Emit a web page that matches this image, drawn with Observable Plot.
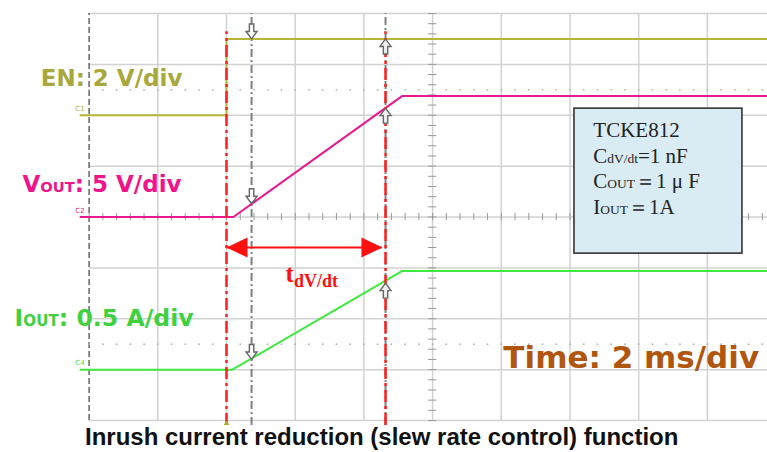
<!DOCTYPE html>
<html>
<head>
<meta charset="utf-8">
<script src="https://cdn.jsdelivr.net/npm/d3@7"></script>
<script src="https://cdn.jsdelivr.net/npm/@observablehq/plot@0.6"></script>
<style>
  html, body { margin: 0; padding: 0; background: #fff; width: 767px; height: 452px; overflow: hidden; }
  #caption { font-family: "Liberation Sans", Arial, sans-serif; font-weight: bold; font-size: 24px; color: #111;
             line-height: 24px; padding-left: 85px; white-space: nowrap; }
</style>
</head>
<body>
<div id="chart"></div>
<div id="caption">Inrush current reduction (slew rate control) function</div>
<script>
// ---- data (time in ms, t = 0 at the EN rising edge / trigger) ----
const channelNames   = ["EN", "VOUT", "IOUT"];
const channelLabels  = ["EN: 2 V/div", "V{OUT}: 5 V/div", "I{OUT}: 0.5 A/div"];
const channelMarkers = ["C1", "C2", "C4"];
const channelScales  = [2, 5, 0.5];      // units per division
const channelOffsets = [2, 0, -3];       // ground level, in divisions
const channelColors  = ["#b5b53a", "#e8188e", "#3ee83e"];
const labelColors    = ["#a8a83c", "#f0148c", "#40d040"];

const enTime   = [-4.25, 0, 0, 16.5];
const enVolts  = [0, 0, 3.0, 3.0];
const voutTime  = [-4.25, 0.2, 5.12, 16.5];
const voutVolts = [0, 0, 11.9, 11.9];
const ioutTime = [-4.25, 0.17, 5.12, 16.5];
const ioutAmps = [0, 0, 0.97, 0.97];

const cursorTimes = [0.73, 4.63];
const enAtCursor   = [3.0, 3.0];
const voutAtCursor = [1.3, 10.7];
const ioutAtCursor = [0.1, 0.85];
const edgeMarkerTimes = [0, 4.63];       // red dashed markers
const slewTime = 4.54;                   // tdV/dt arrow end

const boxLines = ["TCKE812", "C{dV/dt}=1 nF", "C{OUT}＝1 μ F", "I{OUT}＝1A"];
const timeLabel = "Time: 2 ms/div";

// ---- build rows ----
const toDiv = (ci, v) => channelOffsets[ci] + v / channelScales[ci];
const traces = [
  ...enTime.map((t, i) => ({ch: 0, t, y: toDiv(0, enVolts[i])})),
  ...voutTime.map((t, i) => ({ch: 1, t, y: toDiv(1, voutVolts[i])})),
  ...ioutTime.map((t, i) => ({ch: 2, t, y: toDiv(2, ioutAmps[i])}))
];
const cursorVals = [enAtCursor, voutAtCursor, ioutAtCursor];
const cursorPts = [];
cursorVals.forEach((arr, ci) => arr.forEach((v, k) => cursorPts.push({t: cursorTimes[k], y: toDiv(ci, v), k})));

const labelY = [2.72, 0.64, -1.99];
const labelT = [-5.41, -5.94, -6.17];
const labelSize = [23, 23, 23.6];
const labels = channelLabels.map((s, i) => ({s, t: labelT[i], y: labelY[i], c: labelColors[i], f: labelSize[i]}));
const markers = channelMarkers.map((s, i) => ({s, t: -4.4, y: channelOffsets[i] + 0.13, c: channelColors[i]}));

// custom symbols
const arrowDown = {draw(c) { c.moveTo(0,0); c.lineTo(-5.5,-7.5); c.lineTo(-2.2,-7.5); c.lineTo(-2.2,-15); c.lineTo(2.2,-15); c.lineTo(2.2,-7.5); c.lineTo(5.5,-7.5); c.closePath(); }};
const arrowUp   = {draw(c) { c.moveTo(0,0); c.lineTo(-5.5,7.5); c.lineTo(-2.2,7.5); c.lineTo(-2.2,15); c.lineTo(2.2,15); c.lineTo(2.2,7.5); c.lineTo(5.5,7.5); c.closePath(); }};
const headLeft  = {draw(c) { c.moveTo(0,0); c.lineTo(21,-10); c.lineTo(21,10); c.closePath(); }};
const headRight = {draw(c) { c.moveTo(0,0); c.lineTo(-21,-10); c.lineTo(-21,10); c.closePath(); }};
const trigTri   = {draw(c) { c.moveTo(0,0); c.lineTo(-4.5,7); c.lineTo(4.5,7); c.closePath(); }};

const gridX = d3.range(-2, 16.01, 2);
const gridY = d3.range(-4, 4.01, 1);
const fineX = d3.range(-4, 16.01, 0.4);
const fineY = d3.range(-4, 4.01, 0.2);

const plot = Plot.plot({
  width: 767, height: 425,
  marginLeft: 0, marginRight: 0, marginTop: 0, marginBottom: 0,
  x: {domain: [-4, 16], range: [88.6, 775.6], axis: null},
  y: {domain: [-4, 4], range: [420, 13], axis: null},
  style: {fontFamily: "DejaVu Sans", background: "#fff"},
  marks: [
    // graticule
    Plot.ruleX(gridX, {y1: -4, y2: 4, stroke: "#d2d2d2", strokeWidth: 1.5}),
    Plot.ruleY(gridY, {x1: -4, x2: 16, stroke: "#d2d2d2", strokeWidth: 1.5}),
    Plot.ruleX([-4], {y1: -4, y2: 4, stroke: "#5a5a5a", strokeWidth: 1.4, strokeDasharray: "6,3"}),
    Plot.ruleX(fineX, {y1: -0.07, y2: 0.07, stroke: "#999", strokeWidth: 1}),
    Plot.ruleY(fineY, {x1: 5.88, x2: 6.12, stroke: "#999", strokeWidth: 1}),
    Plot.dot(fineX.map(t => ({t, y: 2.5})).concat(fineX.map(t => ({t, y: -2.5}))), {x: "t", y: "y", r: 0.9, fill: "#b0b0b0"}),
    // cursors
    Plot.ruleX(cursorTimes, {y1: -4.1, y2: 4, stroke: "#808080", strokeWidth: 2, strokeDasharray: "8,3,2,3"}),
    // traces
    Plot.line(traces, {x: "t", y: "y", z: "ch", stroke: d => channelColors[d.ch], strokeWidth: 2}),
    Plot.text(markers, {x: "t", y: "y", text: "s", fill: "c", fontSize: 7, textAnchor: "start"}),
    // red edge markers
    Plot.ruleX(edgeMarkerTimes, {y1: -4.1, y2: 3.64, stroke: "#ff1e1e", strokeWidth: 2.5, strokeDasharray: "12,4,3,4"}),
    // cursor crossing arrows
    Plot.dot(cursorPts.filter(d => d.k === 0), {x: "t", y: "y", symbol: arrowDown, fill: "#fff", stroke: "#666", strokeWidth: 1.4}),
    Plot.dot(cursorPts.filter(d => d.k === 1), {x: "t", y: "y", symbol: arrowUp, fill: "#eee", stroke: "#666", strokeWidth: 1.4}),
    // tdV/dt double arrow
    Plot.ruleY([-0.6], {x1: edgeMarkerTimes[0], x2: slewTime, stroke: "#ff1010", strokeWidth: 2}),
    Plot.dot([{t: edgeMarkerTimes[0], y: -0.6}], {x: "t", y: "y", symbol: headLeft, fill: "#ff1010", stroke: null}),
    Plot.dot([{t: slewTime, y: -0.6}], {x: "t", y: "y", symbol: headRight, fill: "#ff1010", stroke: null}),
    Plot.text(["t[dV/dt]"], {x: 1.72, y: -1.12, text: d => d, fill: "#ff1010", fontSize: 25, fontWeight: "bold", fontFamily: "Liberation Serif", textAnchor: "start"}),
    // trigger marker
    Plot.dot([{t: 0, y: -4}], {x: "t", y: "y", symbol: trigTri, fill: "#b0a820", stroke: null}),
    // channel labels
    Plot.text(labels, {x: "t", y: "y", text: "s", fill: "c", fontSize: "f", fontWeight: "bold", textAnchor: "start"}),
    Plot.text([timeLabel], {x: 8.06, y: -2.78, text: d => d, fill: "#b0560f", fontSize: 31, fontWeight: "bold", textAnchor: "start"}),
    // parameter box
    Plot.rect([{x1: 10.13, x2: 15.02, y1: -0.72, y2: 2.13}], {x1: "x1", x2: "x2", y1: "y1", y2: "y2", fill: "#d9ebf3", stroke: "#333", strokeWidth: 1.6}),
    Plot.text(boxLines, {x: 10.68, y: (d, i) => 1.70 - i * 0.5, text: d => d, fill: "#222", fontSize: 21, fontFamily: "Liberation Serif", textAnchor: "start"})
  ]
});

// rich text: {..} small same baseline, [..] lowered subscript
function richify(svg) {
  svg.querySelectorAll("text").forEach(t => {
    const s = t.textContent;
    if (!/[\{\[]/.test(s)) return;
    const parts = s.split(/(\{[^}]*\}|\[[^\]]*\])/).filter(p => p.length);
    t.textContent = "";
    parts.forEach(p => {
      const ts = document.createElementNS("http://www.w3.org/2000/svg", "tspan");
      if (p[0] === "{") { ts.textContent = p.slice(1, -1); ts.setAttribute("font-size", "0.64em"); }
      else if (p[0] === "[") { ts.textContent = p.slice(1, -1); ts.setAttribute("font-size", "0.72em"); ts.setAttribute("dy", "0.3em"); }
      else ts.textContent = p;
      t.appendChild(ts);
    });
  });
}
richify(plot);
document.getElementById("chart").appendChild(plot);
</script>
</body>
</html>
